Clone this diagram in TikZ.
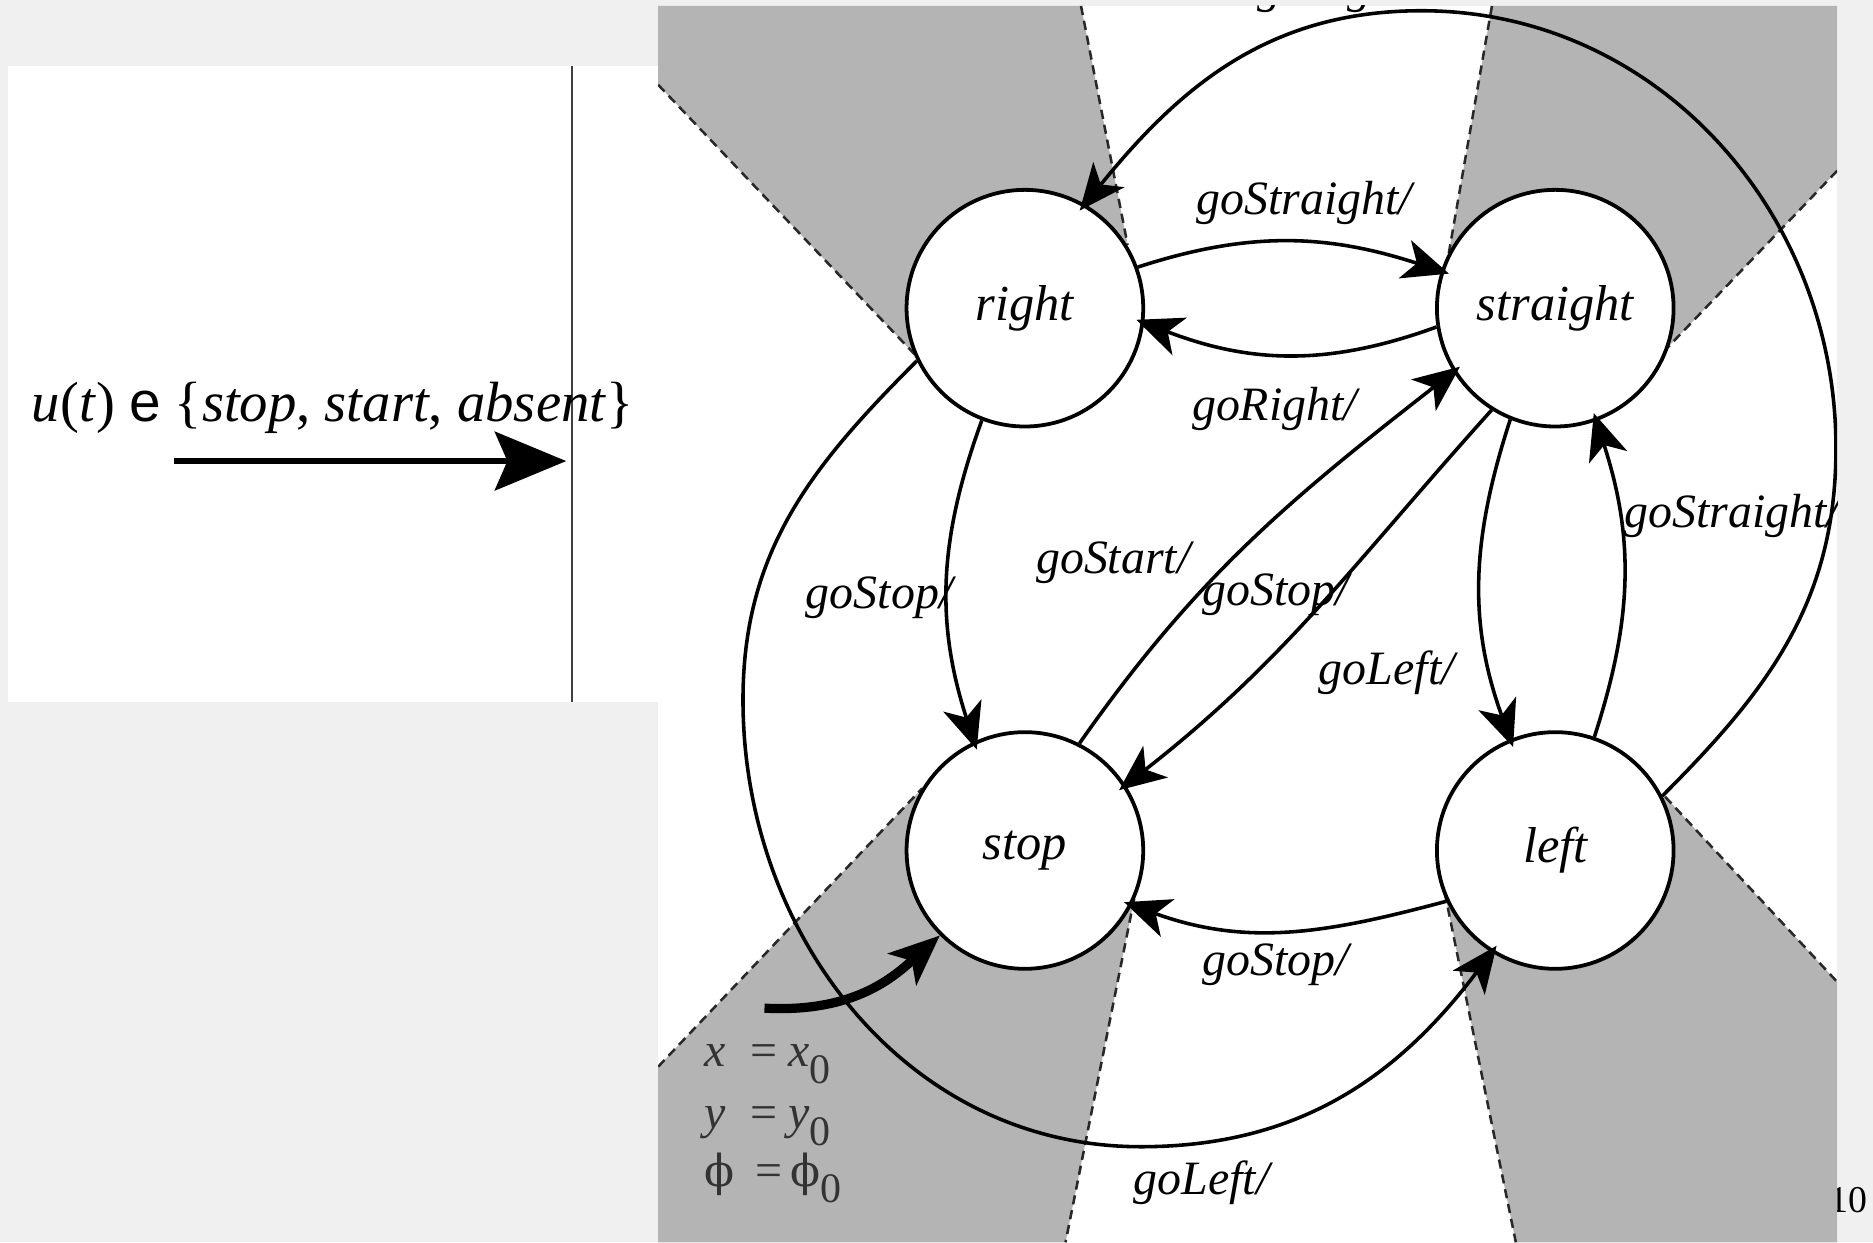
\documentclass[tikz,border=0pt]{standalone}
\usepackage{fontspec}
\setmainfont{Liberation Serif}
\setsansfont{Liberation Sans}
\newfontfamily\phifont{DejaVu Serif}
\usetikzlibrary{arrows.meta}
\definecolor{pagegray}{RGB}{240,240,240}
\definecolor{wedgegray}{RGB}{180,180,180}
\definecolor{dashgray}{RGB}{40,40,40}

\begin{document}
\begin{tikzpicture}[x=0.01cm,y=-0.01cm,
		stnode/.style={circle,draw,fill=white,line width=0.9pt,minimum size=1.98cm,inner sep=0pt,font=\fontsize{12}{14}\selectfont\itshape},
		trans/.style={line width=0.85pt,-{Stealth[length=11pt,width=9.5pt,inset=3pt]},shorten >=-2pt},
		lbl/.style={inner sep=0pt,font=\fontsize{11.4}{13}\selectfont\itshape},
		initlbl/.style={anchor=base west,inner sep=0pt,text=black!80,font=\fontsize{11.4}{13}\selectfont},
		wedge/.style={fill=wedgegray},
		border/.style={dashgray,line width=0.6pt,dash pattern=on 2.2pt off 1.4pt}]
		\useasboundingbox (0,0) rectangle (1568,1040);
		\fill[pagegray] (0,0) rectangle (1568,1040);
		\node[anchor=east,inner sep=0pt,font=\fontsize{9}{11}\selectfont] (page) at (1564,1005) {10};
		\fill[white] (7,55) rectangle (551,588);
		\draw[line width=0.6pt,black!75] (479,55) -- (479,588);
		\node[anchor=base west,inner sep=0pt,font=\fontsize{13.5}{16}\selectfont] (input) at (26,353) {\textit{u}(\textit{t}) {\sffamily e} \{\textit{stop}, \textit{start}, \textit{absent}\}};
		\coordinate (ustart) at (146,386);
		\coordinate (uend) at (474,386);
		\draw[line width=1.3pt,-{Stealth[length=17pt,width=14pt,inset=3pt]}] (ustart) -- (uend);
		\begin{scope}
		\clip (551,5) rectangle (1538,1040);
		\fill[white] (551,5) rectangle (1538,1040);
		\fill[wedge] (551,5) -- (905,5) -- (944,205) -- (858,258) -- (767,298) -- (551,71) -- cycle;
		\fill[wedge] (1249,5) -- (1538,5) -- (1538,143) -- (1396,291) -- (1302,258) -- (1212,217) -- cycle;
		\fill[wedge] (551,893) -- (772,660) -- (858,712) -- (952,740) -- (892,1040) -- (551,1040) -- cycle;
		\fill[wedge] (1207,735) -- (1302,712) -- (1394,667) -- (1538,822) -- (1538,1040) -- (1269,1040) -- cycle;
		\draw[border] (551,71) -- (767,298);
		\draw[border] (905,5) -- (944,205);
		\draw[border] (1249,5) -- (1212,217);
		\draw[border] (1538,143) -- (1396,291);
		\draw[border] (551,893) -- (772,660);
		\draw[border] (952,740) -- (892,1040);
		\draw[border] (1207,735) -- (1269,1040);
		\draw[border] (1394,667) -- (1538,822);
		\node[stnode] (nright) at (858,258) {right};
		\node[stnode] (nstraight) at (1302,258) {straight};
		\node[stnode] (nstop) at (858,712) {stop};
		\node[stnode] (nleft) at (1302,712) {left};
		\draw[trans] (nright.20) to[out=18,in=162] (nstraight.162);
		\draw[trans] (nstraight.189) to[out=200,in=-21] (nright.-7);
		\draw[trans] (nright.249) to[out=250,in=108] (nstop.115);
		\draw[trans] (nstop.63) to[out=55,in=218] (nstraight.212);
		\draw[trans] (nstraight.238) to[out=228,in=38] (nstop.33);
		\draw[trans] (nstraight.248) to[out=252,in=110] (nleft.112);
		\draw[trans] (nleft.71) to[out=72,in=-72] (nstraight.-70);
		\draw[trans] (nleft.205) to[out=195,in=-20] (nstop.-27);
		\coordinate (eastpt) at (1537,375);
		\coordinate (northpt) at (1190,9);
		\coordinate (westpt) at (622,586);
		\coordinate (southpt) at (955,960);
		\draw[trans] (nleft.27) to[out=45,in=-90] (eastpt) to[out=90,in=0] (northpt) to[out=180,in=51] (nright.60);
		\draw[trans] (nright.206) to[out=225,in=90] (westpt) to[out=-90,in=180] (southpt) to[out=0,in=233] (nleft.238);
		\coordinate (initpt) at (640,844);
		\draw[line width=2.2pt,-{Stealth[length=12pt,width=10pt,inset=3pt]}] (initpt) .. controls (715,848) and (748,818) .. (nstop.225);
		\node[lbl] (l1) at (1092,170) {goStraight/};
		\node[lbl] (l2) at (1067,342) {goRight/};
		\node[lbl] (l3) at (736,500) {goStop/};
		\node[lbl] (l4) at (932,471) {goStart/};
		\node[lbl] (l5) at (1068,498) {goStop/};
		\node[lbl] (l6) at (1161,563) {goLeft/};
		\node[lbl] (l7) at (1450,432) {goStraight/};
		\node[lbl] (l8) at (1068,808) {goStop/};
		\node[lbl] (l9) at (1006,990) {goLeft/};
		\node[lbl,anchor=base west] (l10) at (1052,2) {goRight/};
		\node[initlbl] (x0) at (589,893) {\textit{x}\hspace{6pt}=\hspace{2.5pt}\textit{x}\raisebox{-4pt}{\fontsize{10}{10}\selectfont 0}};
		\node[initlbl] (y0) at (589,945) {\textit{y}\hspace{6pt}=\hspace{2.5pt}\textit{y}\raisebox{-4pt}{\fontsize{10}{10}\selectfont 0}};
		\node[initlbl] (phi0) at (589,993) {{\phifont\fontsize{10.5}{13}\selectfont ϕ}\hspace{5pt}=\hspace{2pt}{\phifont\fontsize{10.5}{13}\selectfont ϕ}\raisebox{-4pt}{\fontsize{10}{10}\selectfont 0}};
		\end{scope}
\end{tikzpicture}
\end{document}
